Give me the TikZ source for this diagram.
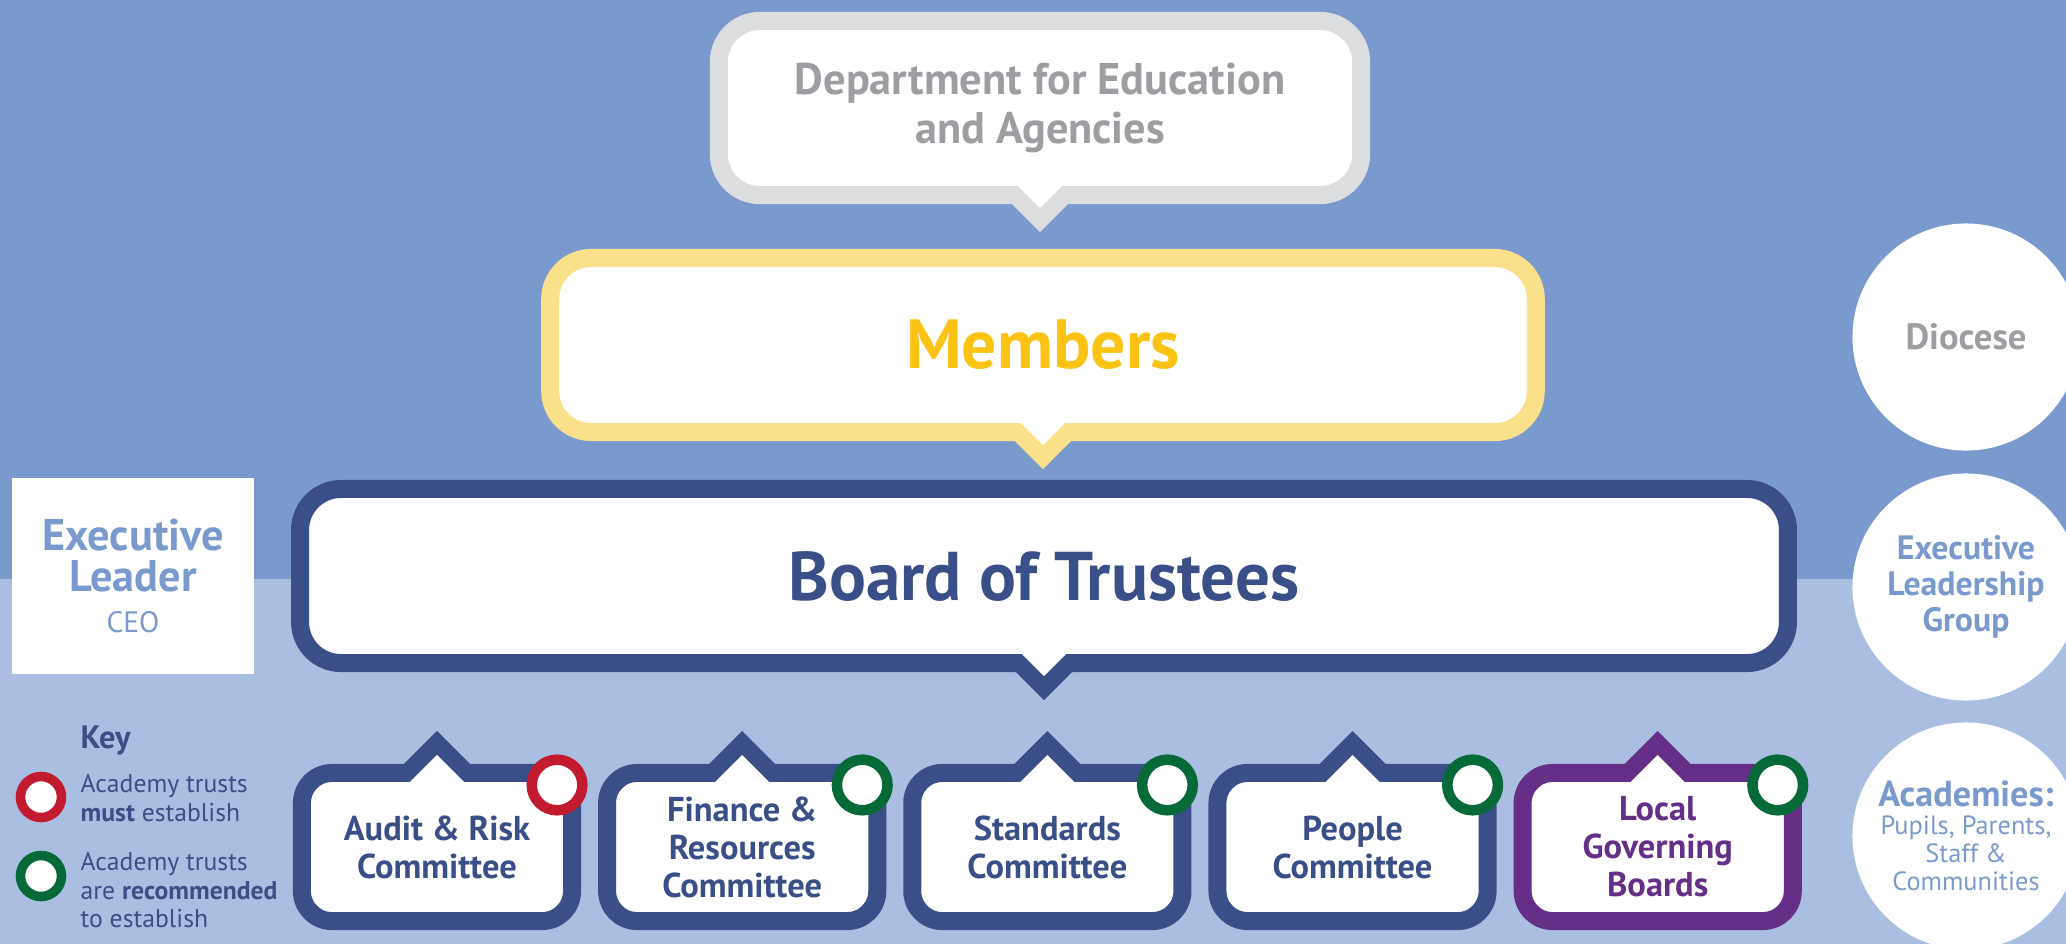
\documentclass[tikz,border=0pt]{standalone}
\usepackage{fontspec}
\setmainfont{PT Sans}
\usepackage{tikz}
\usetikzlibrary{positioning}

\definecolor{SkyDark}{HTML}{7A9ACE}
\definecolor{SkyLight}{HTML}{A9BEE0}
\definecolor{GreyLine}{HTML}{DCDDDF}
\definecolor{GreyText}{HTML}{9D9EA2}
\definecolor{YellowLine}{HTML}{FBE08C}
\definecolor{Gold}{HTML}{FDC314}
\definecolor{Navy}{HTML}{3A4F87}
\definecolor{Plum}{HTML}{652F87}
\definecolor{MustRed}{HTML}{C21B2F}
\definecolor{RecGreen}{HTML}{066A38}

\begin{document}
\begin{tikzpicture}[x=0.01cm, y=-0.01cm,
  bubble/.style={draw, fill=white, line width=0.18cm, rounded corners=0.41cm,
                 minimum height=1.74cm, align=center},
  committee/.style={draw=Navy, fill=white, line width=0.18cm, rounded corners=0.3cm,
                    minimum width=2.70cm, minimum height=1.48cm, align=center, text=Navy,
                    font=\fontsize{9.8}{10.8}\selectfont\bfseries},
  markring/.style={circle, draw=#1, fill=white, line width=0.105cm, minimum size=0.506cm, inner sep=0pt},
  keyring/.style={circle, draw=#1, fill=white, line width=0.095cm, minimum size=0.41cm, inner sep=0pt},
  sidecircle/.style={circle, fill=white, minimum size=2.27cm, inner sep=0pt, align=center},
  keytext/.style={anchor=north west, inner sep=0pt, align=left, text=Navy,
                  font=\fontsize{7.3}{8.1}\selectfont}
]
% Background bands
\useasboundingbox (0,0) rectangle (2066,944);
\fill[SkyDark] (0,0) rectangle (2066,579);
\fill[SkyLight] (0,579) rectangle (2066,944);

% Chain of bubbles
\node[bubble, draw=GreyLine, text=GreyText, minimum width=6.42cm,
      font=\fontsize{12.6}{13.7}\selectfont\bfseries]
     (dfe) at (1040,108) {Department for Education\\and Agencies};
\node[bubble, draw=YellowLine, text=Gold, minimum width=9.85cm,
      font=\fontsize{19.8}{21}\selectfont\bfseries]
     (members) at (1043,345) {Members};
\node[bubble, draw=Navy, text=Navy, minimum width=14.87cm,
      font=\fontsize{19.6}{21}\selectfont\bfseries]
     (board) at (1044,576) {Board of Trustees};

% Committees
\node[committee] (audit) at (437,847) {Audit \& Risk\\Committee};
\node[committee, right=0.17cm of audit] (finance) {Finance \&\\Resources\\Committee};
\node[committee, right=0.17cm of finance] (standards) {Standards\\Committee};
\node[committee, right=0.17cm of standards] (people) {People\\Committee};
\node[committee, draw=Plum, text=Plum, right=0.17cm of people] (lgb) {Local\\Governing\\Boards};

% Pointers
\fill[GreyLine] (dfe.south) ++(-38,-10) -- ++(38,38) -- ++(38,-38) -- cycle;
\fill[white] (dfe.south) ++(-25,-21) -- ++(25,25) -- ++(25,-25) -- cycle;
\fill[YellowLine] (members.south) ++(-38,-10) -- ++(38,38) -- ++(38,-38) -- cycle;
\fill[white] (members.south) ++(-25,-21) -- ++(25,25) -- ++(25,-25) -- cycle;
\fill[Navy] (board.south) ++(-38,-10) -- ++(38,38) -- ++(38,-38) -- cycle;
\fill[white] (board.south) ++(-25,-21) -- ++(25,25) -- ++(25,-25) -- cycle;
\fill[Navy] (audit.north) ++(-43,10) -- ++(43,-43) -- ++(43,43) -- cycle;
\fill[white] (audit.north) ++(-30,21) -- ++(30,-30) -- ++(30,30) -- cycle;
\fill[Navy] (finance.north) ++(-43,10) -- ++(43,-43) -- ++(43,43) -- cycle;
\fill[white] (finance.north) ++(-30,21) -- ++(30,-30) -- ++(30,30) -- cycle;
\fill[Navy] (standards.north) ++(-43,10) -- ++(43,-43) -- ++(43,43) -- cycle;
\fill[white] (standards.north) ++(-30,21) -- ++(30,-30) -- ++(30,30) -- cycle;
\fill[Navy] (people.north) ++(-43,10) -- ++(43,-43) -- ++(43,43) -- cycle;
\fill[white] (people.north) ++(-30,21) -- ++(30,-30) -- ++(30,30) -- cycle;
\fill[Plum] (lgb.north) ++(-43,10) -- ++(43,-43) -- ++(43,43) -- cycle;
\fill[white] (lgb.north) ++(-30,21) -- ++(30,-30) -- ++(30,30) -- cycle;

% Rings on the committees
\node[markring=MustRed] (auditmark) at ([xshift=-0.24cm,yshift=-0.21cm]audit.north east) {};
\node[markring=RecGreen] (financemark) at ([xshift=-0.24cm,yshift=-0.21cm]finance.north east) {};
\node[markring=RecGreen] (standardsmark) at ([xshift=-0.24cm,yshift=-0.21cm]standards.north east) {};
\node[markring=RecGreen] (peoplemark) at ([xshift=-0.24cm,yshift=-0.21cm]people.north east) {};
\node[markring=RecGreen] (lgbmark) at ([xshift=-0.24cm,yshift=-0.21cm]lgb.north east) {};

% Executive leader
\node[fill=white, minimum width=2.41cm, minimum height=1.96cm, align=center, text=SkyDark,
      font=\fontsize{12.6}{11.6}\selectfont\bfseries]
     (exec) at (133,576) {Executive\\Leader\\{\fontsize{8.4}{9}\selectfont\mdseries CEO}};

% Key
\node[anchor=base west, inner sep=0pt, text=Navy, font=\fontsize{9.2}{10}\selectfont\bfseries]
     (key) at (80,748) {Key};
\node[keyring=MustRed] (mustkey) at (41,797) {};
\node[keyring=RecGreen] (reckey) at (41,876) {};
\node[keytext] (musttext) at (80,774) {Academy trusts\\\textbf{must} establish};
\node[keytext] (rectext) at (80,852) {Academy trusts\\are \textbf{recommended}\\to establish};

% Circles on the right
\node[sidecircle, text=GreyText, font=\fontsize{10.4}{11}\selectfont\bfseries]
     (diocese) at (1966,337) {Diocese};
\node[sidecircle, text=SkyDark, font=\fontsize{9.6}{10.2}\selectfont\bfseries]
     (elg) at (1966,587) {Executive\\Leadership\\Group};
\node[sidecircle, text=SkyDark, font=\fontsize{7.5}{8}\selectfont]
     (academies) at (1966,836) {{\fontsize{10.3}{10}\selectfont\bfseries Academies:}\\Pupils, Parents,\\Staff \&\\Communities};
\end{tikzpicture}
\end{document}
